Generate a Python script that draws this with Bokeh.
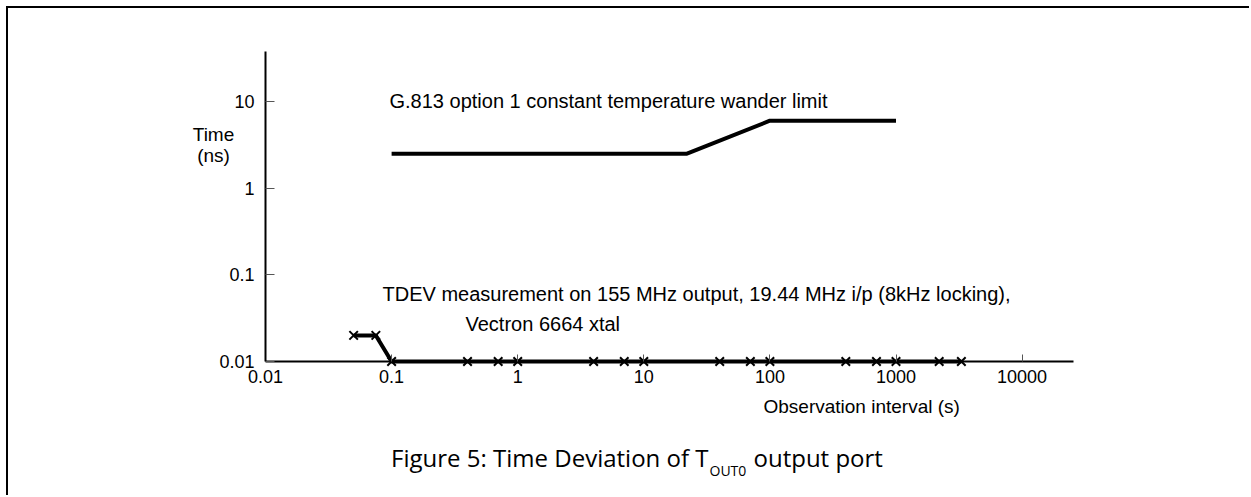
import math
from bokeh.plotting import figure
from bokeh.models import Range1d, FixedTicker, Label
from bokeh.embed import file_html
from bokeh.resources import INLINE

# ---- data ----
g813_tau = [0.1, 22, 100, 1000]
g813_tdev = [2.5, 2.5, 6.0, 6.0]

meas_tau = [0.05, 0.075, 0.1, 0.4, 0.7, 1, 4, 7, 10, 40, 70, 100, 400, 700, 1000, 2200, 3300]
meas_tdev = [0.02, 0.02, 0.01, 0.01, 0.01, 0.01, 0.01, 0.01, 0.01, 0.01, 0.01, 0.01,
             0.01, 0.01, 0.01, 0.01, 0.01]

x_ticks = [0.01, 0.1, 1, 10, 100, 1000, 10000]
x_tick_labels = ["0.01", "0.1", "1", "10", "100", "1000", "10000"]
y_ticks = [0.01, 0.1, 1, 10]
y_tick_labels = ["0.01", "0.1", "1", "10"]

x_axis_extent = (0.01, 25600)
y_axis_extent = (0.01, 37.8)

# ---- page layout (pixels) ----
W, H = 1243, 489          # canvas size; canvas starts at page (8, 8)
OX, OY = 8, 8
AX_X0, DEC_X = 265, 126.1  # page x of 0.01, pixels per decade
AX_Y0, DEC_Y = 361, 86.67  # page y of 0.01, pixels per decade

def px_x(px):
    return 10 ** (-2 + (px - AX_X0) / DEC_X)

def px_y(py):
    return 10 ** (-2 + (AX_Y0 - py) / DEC_Y)

FONT = "Liberation Sans"
CAP_FONT = "Open Sans"
FS = "20px"
TFS = "18px"

p = figure(width=W, height=H, x_axis_type="log", y_axis_type="log",
           x_range=Range1d(px_x(OX), px_x(OX + W)),
           y_range=Range1d(px_y(OY + H), px_y(OY)),
           output_backend="svg", toolbar_location=None,
           min_border_left=0, min_border_right=0,
           min_border_top=0, min_border_bottom=0)
p.styles = {"border-left": "2px solid black", "border-top": "2px solid black",
            "margin-left": "6px", "margin-top": "6px"}
p.outline_line_color = None
p.xgrid.visible = False
p.ygrid.visible = False
p.background_fill_color = "white"
p.border_fill_color = "white"

for ax, ticks, labels, ext in ((p.xaxis[0], x_ticks, x_tick_labels, x_axis_extent),
                               (p.yaxis[0], y_ticks, y_tick_labels, y_axis_extent)):
    ax.ticker = FixedTicker(ticks=ticks)
    ax.major_label_overrides = dict(zip(ticks, labels))
    ax.bounds = ext
    ax.axis_line_width = 2
    ax.axis_line_color = "black"
    ax.major_tick_in = 9
    ax.major_tick_out = 0
    ax.major_tick_line_color = "#555555"
    ax.major_tick_line_width = 1
    ax.minor_tick_line_color = None
    ax.major_label_text_font = FONT
    ax.major_label_text_font_size = TFS
    ax.major_label_text_color = "black"
p.xaxis.fixed_location = y_axis_extent[0]
p.yaxis.fixed_location = x_axis_extent[0]
p.xaxis.major_label_standoff = 8
p.yaxis.major_label_standoff = 11
p.xaxis.major_tick_in = 7

p.line(g813_tau, g813_tdev, line_width=4, color="black")
p.line(meas_tau, meas_tdev, line_width=4, color="black")
p.scatter(meas_tau, meas_tdev, marker="x", size=12, line_width=2, color="black")

def lab(px, py, text, align="left", font=FONT, size=FS):
    p.add_layout(Label(x=px_x(px), y=px_y(py), text=text, text_align=align,
                       text_baseline="middle", text_font=font, text_font_size=size,
                       text_color="black"))

lab(389, 100, "G.813 option 1 constant temperature wander limit")
lab(382, 293, "TDEV measurement on 155 MHz output, 19.44 MHz i/p (8kHz locking),")
lab(465, 323, "Vectron 6664 xtal")
lab(213, 134, "Time", align="center", size="19px")
lab(213, 155, "(ns)", align="center", size="19px")
lab(763, 406, "Observation interval (s)", size="19px")

# caption
lab(708, 457, "Figure 5: Time Deviation of T", align="right", font=CAP_FONT, size="24px")
lab(709, 470, "OUT0", font=CAP_FONT, size="14px")
lab(753, 457, "output port", font=CAP_FONT, size="24px")

open("out.html", "w").write(file_html(p, INLINE))
